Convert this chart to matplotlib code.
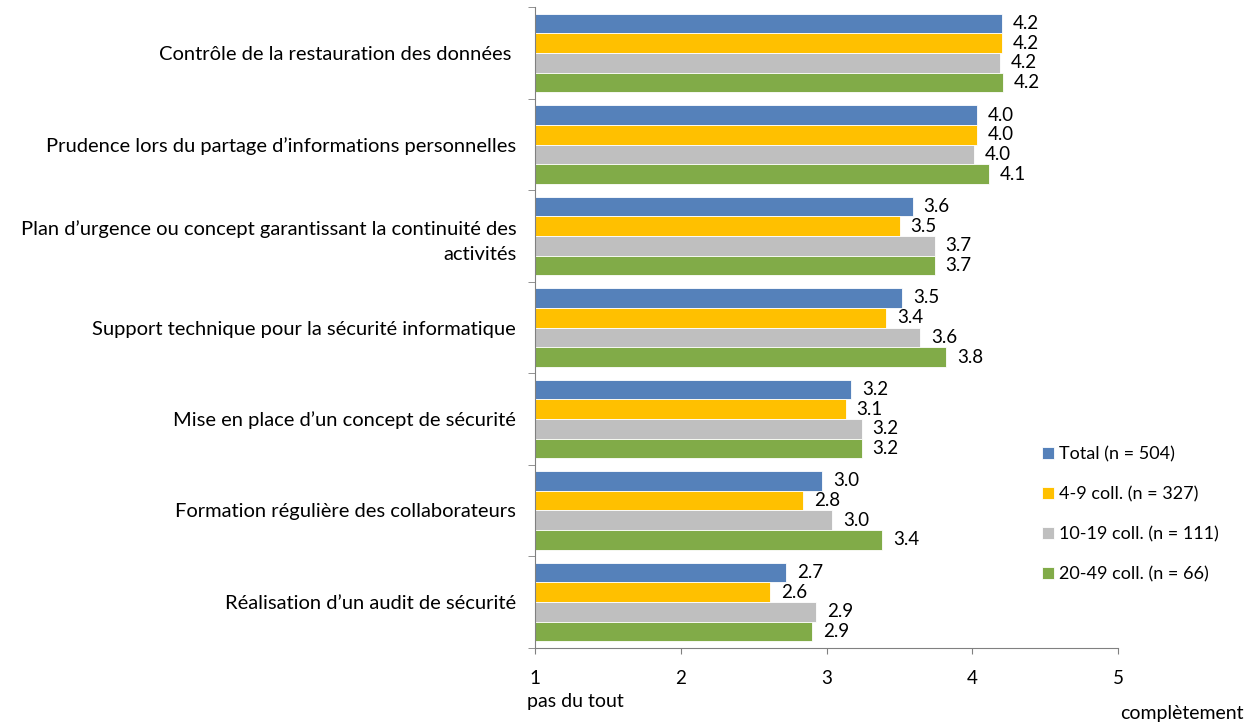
import matplotlib.pyplot as plt
import numpy as np

plt.rcParams['font.family'] = ['Lato', 'DejaVu Sans']

# Data
categories = [
    "Contrôle de la restauration des données ",
    "Prudence lors du partage d\u2019informations personnelles",
    "Plan d\u2019urgence ou concept garantissant la continuité des\nactivités",
    "Support technique pour la sécurité informatique",
    "Mise en place d\u2019un concept de sécurité",
    "Formation régulière des collaborateurs",
    "Réalisation d\u2019un audit de sécurité",
]
series_names = ["Total (n = 504)", "4-9 coll. (n = 327)",
                "10-19 coll. (n = 111)", "20-49 coll. (n = 66)"]
total = [4.20, 4.03, 3.59, 3.52, 3.17, 2.97, 2.72]
coll_4_9 = [4.20, 4.03, 3.50, 3.41, 3.13, 2.84, 2.61]
coll_10_19 = [4.19, 4.01, 3.74, 3.64, 3.24, 3.04, 2.93]
coll_20_49 = [4.21, 4.11, 3.74, 3.82, 3.24, 3.38, 2.90]
colors = ["#5581BA", "#FFC000", "#BFBFBF", "#81AB48"]

all_series = [total, coll_4_9, coll_10_19, coll_20_49]

W, H = 1254, 727
fig = plt.figure(figsize=(W / 100, H / 100), dpi=100)
ax = fig.add_axes([535 / W, 1 - 647.7 / H, 583.3 / W, 640.4 / H])

y = np.arange(len(categories))
bar_h = 0.215
base = 1.0
for i, (vals, col, name) in enumerate(zip(all_series, colors, series_names)):
    offs = y + (i - 1.5) * bar_h
    widths = np.array(vals) - base
    ax.barh(offs, widths, height=bar_h, left=base, color=col,
            edgecolor='white', linewidth=0.6, label=name)
    for yy, v in zip(offs, vals):
        ax.text(v + 0.075, yy, "{:.1f}".format(v), va='center', ha='left',
                fontsize=13.5, color='black')

ax.set_xlim(1, 5)
ax.set_ylim(len(categories) - 0.5, -0.5)
ax.set_xticks([1, 2, 3, 4, 5])
ax.tick_params(axis='x', labelsize=13.5, length=4.3, color='#808080', pad=12)

ax.set_yticks(y)
ax.set_yticklabels(categories, fontsize=14.5, ha='right', linespacing=1.6)
ax.tick_params(axis='y', length=0, pad=13.5)
ax.set_yticks(np.arange(-0.5, len(categories)), minor=True)
ax.tick_params(axis='y', which='minor', length=5, color='#808080')

for s in ['top', 'right']:
    ax.spines[s].set_visible(False)
for s in ['left', 'bottom']:
    ax.spines[s].set_color('#808080')

fig.text(527 / W, 1 - 702 / H, "pas du tout", fontsize=14,
         ha='left', va='center')
fig.text(1120 / W, 1 - 714 / H, "complètement", fontsize=14,
         ha='left', va='center')

ax.legend(loc='upper left', bbox_to_anchor=(1042 / W, 1 - 446 / H),
          bbox_transform=fig.transFigure, frameon=False, fontsize=13,
          borderpad=0, borderaxespad=0,
          handlelength=0.64, handleheight=0.64, handletextpad=0.3,
          labelspacing=1.33)

plt.savefig("out.png", dpi=100)
